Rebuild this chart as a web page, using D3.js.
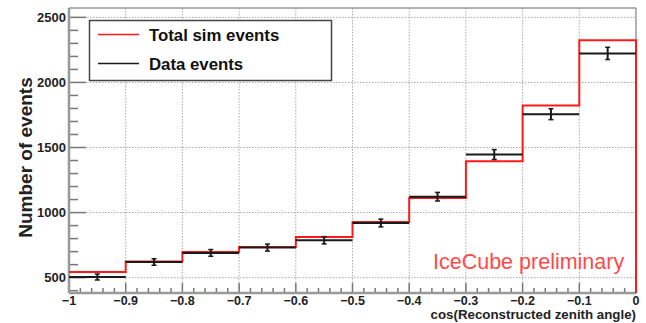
<!DOCTYPE html>
<html>
<head>
<meta charset="utf-8">
<script src="https://cdn.jsdelivr.net/npm/d3@7"></script>
<style>
  html, body { margin: 0; padding: 0; background: #fff; }
  svg { display: block; }
  text { font-family: "Liberation Sans", Arial, sans-serif; }
</style>
</head>
<body>
<svg id="chart" width="646" height="323"></svg>
<script>
// Bin edges of cos(zenith) histogram
const binEdges = [-1, -0.9, -0.8, -0.7, -0.6, -0.5, -0.4, -0.3, -0.2, -0.1, 0];
// Simulated event counts per bin
const simCounts = [543, 625, 697, 735, 812, 928, 1112, 1395, 1823, 2325];
// Observed event counts per bin and their statistical errors
const dataCounts = [505, 620, 690, 731, 787, 920, 1122, 1446, 1756, 2223];
const dataErrors = [23, 25, 26, 27, 28, 30, 33, 38, 42, 47];
// Axis tick labels
const xTicks = [-1, -0.9, -0.8, -0.7, -0.6, -0.5, -0.4, -0.3, -0.2, -0.1, 0];
const yTicks = [500, 1000, 1500, 2000, 2500];

const svg = d3.select("#chart");
const L = 69, R = 636, T = 8, B = 293;

const x = d3.scaleLinear().domain([-1, 0]).range([L, R]);
const y = d3.scaleLinear().domain([382, 2572]).range([B, T]);

// grid
const grid = svg.append("g");
grid.selectAll("line.gx").data(xTicks.slice(1, -1)).join("line")
  .attr("x1", d => x(d)).attr("x2", d => x(d)).attr("y1", T).attr("y2", B)
  .attr("stroke", "#aaa").attr("stroke-width", 1).attr("stroke-dasharray", "1.5,1.5");
grid.selectAll("line.gy").data(yTicks).join("line")
  .attr("x1", L).attr("x2", R).attr("y1", d => y(d)).attr("y2", d => y(d))
  .attr("stroke", "#aaa").attr("stroke-width", 1).attr("stroke-dasharray", "1.5,1.5");

// frame (top/right thin)
svg.append("line").attr("x1", L).attr("x2", R).attr("y1", T).attr("y2", T)
  .attr("stroke", "#999").attr("stroke-width", 1.5);
svg.append("line").attr("x1", R).attr("x2", R).attr("y1", T).attr("y2", B)
  .attr("stroke", "#999").attr("stroke-width", 1.5);

// y axis with minor ticks inside the frame
const yMinor = d3.range(400, 2600, 100).filter(v => v % 500 !== 0);
const yAxis = svg.append("g");
yAxis.selectAll("line.minor").data(yMinor).join("line")
  .attr("x1", L).attr("x2", L + 9).attr("y1", d => y(d)).attr("y2", d => y(d))
  .attr("stroke", "#777").attr("stroke-width", 1.5);
yAxis.selectAll("line.major").data(yTicks).join("line")
  .attr("x1", L).attr("x2", L + 17).attr("y1", d => y(d)).attr("y2", d => y(d))
  .attr("stroke", "#777").attr("stroke-width", 1.5);
yAxis.selectAll("text").data(yTicks).join("text")
  .attr("x", L - 3).attr("y", d => y(d)).attr("dy", "0.36em")
  .attr("text-anchor", "end").attr("font-size", 13).attr("font-weight", "bold")
  .attr("fill", "#222").text(d => d);

// x axis with minor ticks
const xMinor = d3.range(-0.98, 0, 0.02).map(v => +v.toFixed(2))
  .filter(v => Math.abs(Math.round(v * 10) - v * 10) > 1e-6);
const xAxis = svg.append("g");
xAxis.selectAll("line.minor").data(xMinor).join("line")
  .attr("x1", d => x(d)).attr("x2", d => x(d)).attr("y1", B).attr("y2", B - 5)
  .attr("stroke", "#777").attr("stroke-width", 1.5);
xAxis.selectAll("line.major").data(xTicks).join("line")
  .attr("x1", d => x(d)).attr("x2", d => x(d)).attr("y1", B).attr("y2", B - 10)
  .attr("stroke", "#777").attr("stroke-width", 1.5);
xAxis.selectAll("text").data(xTicks).join("text")
  .attr("x", d => x(d)).attr("y", B + 12).attr("text-anchor", "middle")
  .attr("font-size", 12.5).attr("font-weight", "bold").attr("fill", "#222")
  .text(d => d3.format("")(d));

// main axis lines
svg.append("line").attr("x1", L).attr("x2", L).attr("y1", T).attr("y2", B)
  .attr("stroke", "#999").attr("stroke-width", 2.5);
svg.append("line").attr("x1", L).attr("x2", R).attr("y1", B).attr("y2", B)
  .attr("stroke", "#999").attr("stroke-width", 2.5);

// simulated histogram as a step outline, closed down to the axis at the right edge
const simPath = [];
simCounts.forEach((c, i) => {
  simPath.push([binEdges[i], c]);
  simPath.push([binEdges[i + 1], c]);
});
simPath.push([binEdges[binEdges.length - 1], y.domain()[0]]);
const line = d3.line().x(d => x(d[0])).y(d => y(d[1]));
svg.append("path").attr("d", line(simPath)).attr("fill", "none")
  .attr("stroke", "#ff1a1a").attr("stroke-width", 2);

// data points: horizontal bin bars and vertical error bars with caps
const dataG = svg.append("g").attr("stroke", "#1a1a1a");
dataCounts.forEach((c, i) => {
  const x0 = x(binEdges[i]), x1 = x(binEdges[i + 1]);
  const xc = (x0 + x1) / 2;
  dataG.append("line").attr("x1", x0).attr("x2", x1).attr("y1", y(c)).attr("y2", y(c))
    .attr("stroke-width", 2);
  dataG.append("line").attr("x1", xc).attr("x2", xc)
    .attr("y1", y(c - dataErrors[i])).attr("y2", y(c + dataErrors[i])).attr("stroke-width", 2);
  [c - dataErrors[i], c + dataErrors[i]].forEach(v => {
    dataG.append("line").attr("x1", xc - 2.5).attr("x2", xc + 2.5)
      .attr("y1", y(v)).attr("y2", y(v)).attr("stroke-width", 1.5);
  });
});

// legend
const lg = svg.append("g");
lg.append("rect").attr("x", 89.5).attr("y", 20.5).attr("width", 242).attr("height", 60)
  .attr("fill", "#fff").attr("stroke", "#444").attr("stroke-width", 1.5);
const legendItems = [
  { label: "Total sim events", color: "#ff1a1a", y: 34.5 },
  { label: "Data events", color: "#1a1a1a", y: 63.5 }
];
legendItems.forEach(it => {
  lg.append("line").attr("x1", 98).attr("x2", 139).attr("y1", it.y).attr("y2", it.y)
    .attr("stroke", it.color).attr("stroke-width", 1.5);
  lg.append("text").attr("x", 149).attr("y", it.y).attr("dy", "0.36em")
    .attr("font-size", 16.8).attr("font-weight", "bold").attr("fill", "#111").text(it.label);
});

// axis titles
svg.append("text").attr("x", R).attr("y", 319).attr("text-anchor", "end")
  .attr("font-size", 13.3).attr("font-weight", "bold").attr("fill", "#222")
  .text("cos(Reconstructed zenith angle)");
svg.append("text").attr("transform", "translate(32,157.5) rotate(-90)")
  .attr("text-anchor", "middle").attr("font-size", 19).attr("font-weight", "bold")
  .attr("fill", "#222").text("Number of events");

// watermark
svg.append("text").attr("x", 433).attr("y", 269).attr("font-size", 21.5)
  .attr("fill", "#ff4a4a").text("IceCube preliminary");
</script>
</body>
</html>
